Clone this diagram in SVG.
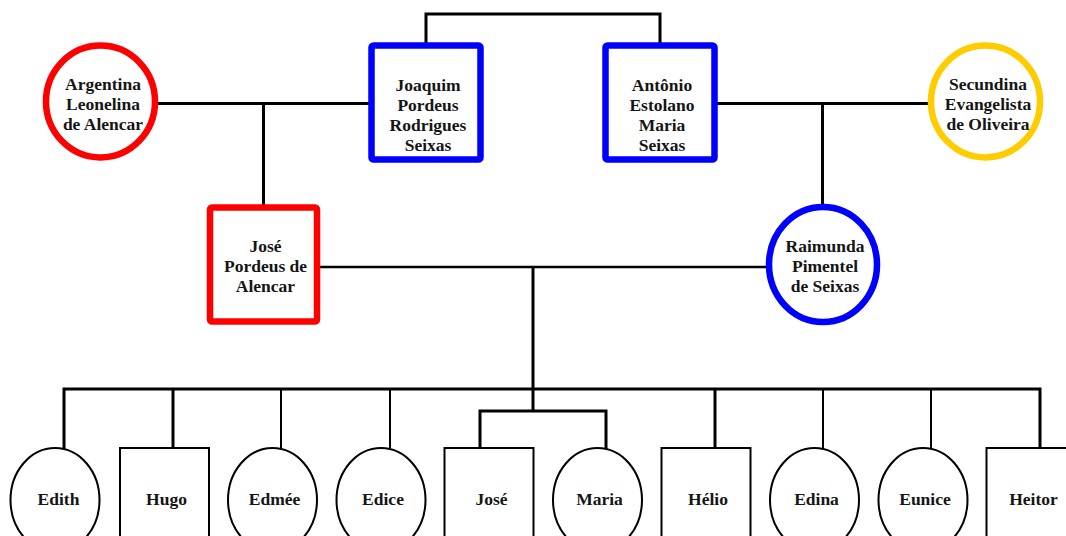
<svg xmlns="http://www.w3.org/2000/svg" width="1066" height="536" viewBox="0 0 1066 536">
  <style>
    .bg { fill: #ffffff; }
    .lbl { font-family: "Liberation Serif", "Times New Roman", serif; font-weight: bold; font-size: 17.5px; fill: #151515; text-anchor: middle; }
    .big { fill: #ffffff; stroke-width: 6.5; stroke-linejoin: round; }
    .red { stroke: #ff0000; }
    .blue { stroke: #0000ff; }
    .gold { stroke: #ffcc00; }
    .kid { fill: #ffffff; stroke: #000000; stroke-width: 2; }
    .ln { fill: none; stroke: #000000; stroke-width: 3; }
    .ln-thin { fill: none; stroke: #000000; stroke-width: 2; }
  </style>
  <rect class="bg" x="0" y="0" width="1066" height="536"/>

  <!-- connectors -->
  <g id="connectors">
    <path class="ln" d="M426 45 V14 H660 V45"/>
    <path class="ln" d="M157 103.5 H371"/>
    <path class="ln" d="M263.5 103.5 V210"/>
    <path class="ln" d="M714 103.5 H930"/>
    <path class="ln" d="M822.5 103.5 V208"/>
    <path class="ln" d="M316 267 H770" style="stroke-width:2.5"/>
    <path class="ln" d="M533 267 V411"/>
    <path class="ln" d="M64 449 V389 H1040 V448"/>
    <path class="ln" d="M480 448 V411 H606 V449"/>
    <path class="ln" d="M173 448 V389"/>
    <path class="ln-thin" d="M281 448 V389"/>
    <path class="ln-thin" d="M390 448 V389"/>
    <path class="ln" d="M715 448 V389"/>
    <path class="ln-thin" d="M823 448 V389"/>
    <path class="ln-thin" d="M931 448 V389"/>
  </g>

  <!-- grandparents -->
  <g id="argentina">
    <ellipse class="big red" cx="100.5" cy="101.5" rx="54.5" ry="56"/>
    <text class="lbl" x="103" y="90">Argentina</text>
    <text class="lbl" x="103" y="110">Leonelina</text>
    <text class="lbl" x="103" y="130">de Alencar</text>
  </g>
  <g id="joaquim">
    <rect class="big blue" x="371.5" y="45.5" width="109" height="114" rx="2"/>
    <text class="lbl" x="428" y="91">Joaquim</text>
    <text class="lbl" x="428" y="111">Pordeus</text>
    <text class="lbl" x="428" y="131">Rodrigues</text>
    <text class="lbl" x="428" y="151">Seixas</text>
  </g>
  <g id="antonio">
    <rect class="big blue" x="605.5" y="45.5" width="109" height="114" rx="2"/>
    <text class="lbl" x="662" y="91">Antônio</text>
    <text class="lbl" x="662" y="111">Estolano</text>
    <text class="lbl" x="662" y="131">Maria</text>
    <text class="lbl" x="662" y="151">Seixas</text>
  </g>
  <g id="secundina">
    <ellipse class="big gold" cx="985.5" cy="101.5" rx="54.5" ry="56"/>
    <text class="lbl" x="988" y="90">Secundina</text>
    <text class="lbl" x="988" y="110">Evangelista</text>
    <text class="lbl" x="988" y="130">de Oliveira</text>
  </g>

  <!-- parents -->
  <g id="jose-pai">
    <rect class="big red" x="210" y="207.5" width="107" height="114" rx="2"/>
    <text class="lbl" x="265.5" y="252">José</text>
    <text class="lbl" x="265.5" y="272">Pordeus de</text>
    <text class="lbl" x="265.5" y="292">Alencar</text>
  </g>
  <g id="raimunda">
    <ellipse class="big blue" cx="823" cy="264.5" rx="54" ry="57.5"/>
    <text class="lbl" x="825" y="252">Raimunda</text>
    <text class="lbl" x="825" y="272">Pimentel</text>
    <text class="lbl" x="825" y="292">de Seixas</text>
  </g>

  <!-- children -->
  <g id="edith">
    <ellipse class="kid" cx="55" cy="500" rx="44.5" ry="52"/>
    <text class="lbl" x="58.5" y="505">Edith</text>
  </g>
  <g id="hugo">
    <rect class="kid" x="120" y="448" width="89" height="104"/>
    <text class="lbl" x="166.5" y="505">Hugo</text>
  </g>
  <g id="edmee">
    <ellipse class="kid" cx="272.5" cy="500" rx="44.5" ry="52"/>
    <text class="lbl" x="274.5" y="505">Edmée</text>
  </g>
  <g id="edice">
    <ellipse class="kid" cx="381" cy="500" rx="44.5" ry="52"/>
    <text class="lbl" x="383" y="505">Edice</text>
  </g>
  <g id="jose">
    <rect class="kid" x="444.5" y="448" width="89" height="104"/>
    <text class="lbl" x="491.5" y="505">José</text>
  </g>
  <g id="maria">
    <ellipse class="kid" cx="597.5" cy="500" rx="44.5" ry="52"/>
    <text class="lbl" x="599.5" y="505">Maria</text>
  </g>
  <g id="helio">
    <rect class="kid" x="661.5" y="448" width="89" height="104"/>
    <text class="lbl" x="708" y="505">Hélio</text>
  </g>
  <g id="edina">
    <ellipse class="kid" cx="814.5" cy="500" rx="44.5" ry="52"/>
    <text class="lbl" x="816.5" y="505">Edina</text>
  </g>
  <g id="eunice">
    <ellipse class="kid" cx="923" cy="500" rx="44.5" ry="52"/>
    <text class="lbl" x="925" y="505">Eunice</text>
  </g>
  <g id="heitor">
    <rect class="kid" x="986.5" y="448" width="89" height="104"/>
    <text class="lbl" x="1033.5" y="505">Heitor</text>
  </g>
</svg>
